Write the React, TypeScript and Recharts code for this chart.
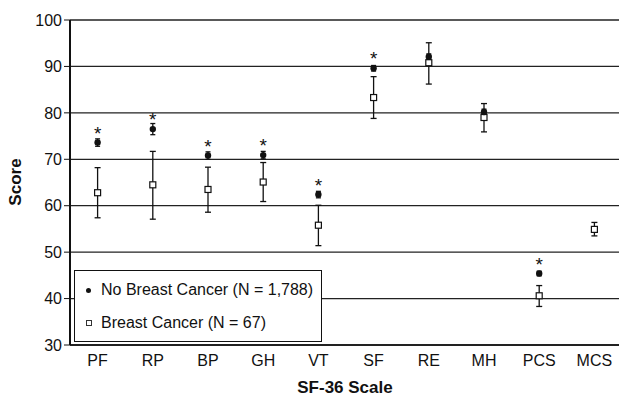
import React from "react";
import { ComposedChart, Scatter, XAxis, YAxis, CartesianGrid, ErrorBar, Legend, Label } from "recharts";

// SF-36 domains and summary scores
const scales = ["PF", "RP", "BP", "GH", "VT", "SF", "RE", "MH", "PCS", "MCS"];

// No breast cancer (N = 1,788)
const noCancer = [73.6, 76.5, 70.8, 70.9, 62.4, 89.6, 92.1, 80.2, 45.4, null];
const noCancerErr = [0.8, 1.2, 0.8, 0.8, 0.7, 0.6, 0.6, 0.6, 0.5, null];

// Breast cancer (N = 67)
const cancer = [62.8, 64.5, 63.5, 65.1, 55.8, 83.3, 90.8, 79.0, 40.6, 54.9];
const cancerLow = [5.4, 7.4, 4.9, 4.2, 4.4, 4.5, 4.6, 3.1, 2.3, 1.4];
const cancerHigh = [5.4, 7.2, 4.8, 4.2, 4.3, 4.5, 4.3, 3.0, 2.2, 1.5];

const significant = [true, true, true, true, true, true, false, false, true, false];
const yTicks = [30, 40, 50, 60, 70, 80, 90, 100];

const data = scales.map((name, i) => ({
  name,
  noCancer: noCancer[i],
  noCancerErr: noCancerErr[i],
  cancer: cancer[i],
  cancerErr: [cancerLow[i], cancerHigh[i]],
  star: significant[i] ? noCancer[i] : null,
}));

const font = "'Liberation Sans', Arial, Helvetica, sans-serif";

const DotShape = (p: any) => {
  if (p.payload.noCancer == null) return <g />;
  return <circle cx={p.cx} cy={p.cy} r={3.2} fill="#111" />;
};

const SquareShape = (p: any) => (
  <rect x={p.cx - 3} y={p.cy - 3} width={6} height={6} fill="#fff" stroke="#111" strokeWidth={1.2} />
);

const StarShape = (p: any) => {
  if (p.payload.star == null) return <g />;
  return (
    <text x={p.cx} y={p.cy - 3} textAnchor="middle" fontSize={19} fontFamily={font} fill="#111">
      *
    </text>
  );
};

const LegendBox = () => (
  <div
    style={{
      width: 248,
      height: 72,
      border: "1.3px solid #111",
      background: "#fff",
      boxSizing: "border-box",
      fontFamily: font,
      fontSize: 16,
      color: "#111",
      position: "relative",
    }}
  >
    <div style={{ position: "absolute", left: 11, top: 10, display: "flex", alignItems: "center" }}>
      <span style={{ width: 5, height: 5, borderRadius: "50%", background: "#111", display: "inline-block", marginRight: 10 }} />
      No Breast Cancer (N = 1,788)
    </div>
    <div style={{ position: "absolute", left: 11, top: 43, display: "flex", alignItems: "center" }}>
      <span style={{ width: 4, height: 4, border: "1px solid #333", background: "#fff", display: "inline-block", marginRight: 9 }} />
      Breast Cancer (N = 67)
    </div>
  </div>
);

export default function App() {
  return (
    <div style={{ position: "absolute", left: 0, top: 0, background: "#fff" }}>
      <ComposedChart width={619} height={397} data={data} margin={{ top: 20, right: 0, bottom: 0, left: 0 }}>
        <CartesianGrid horizontal vertical={false} stroke="#222" strokeWidth={1.3} />
        <XAxis
          dataKey="name"
          type="category"
          scale="band"
          height={52}
          padding={{ left: 0, right: -3 }}
          axisLine={{ stroke: "#111", strokeWidth: 1.5 }}
          tickLine={false}
          tickSize={0}
          tickMargin={10}
          tick={{ fill: "#111", fontSize: 16, fontFamily: font }}
          interval={0}
        >
          <Label
            content={() => (
              <text x={345} y={393} textAnchor="middle" fontSize={17} fontWeight="bold" fontFamily={font} fill="#111">
                SF-36 Scale
              </text>
            )}
          />
        </XAxis>
        <YAxis
          type="number"
          domain={[30, 100]}
          ticks={yTicks}
          width={70}
          axisLine={{ stroke: "#111", strokeWidth: 2 }}
          tickLine={{ stroke: "#111" }}
          tickSize={6}
          tickMargin={2}
          tick={{ fill: "#111", fontSize: 16, fontFamily: font }}
        >
          <Label
            content={() => (
              <text
                x={15.5}
                y={182}
                transform="rotate(-90 15.5 182)"
                textAnchor="middle"
                dominantBaseline="central"
                fontSize={17}
                fontWeight="bold"
                fontFamily={font}
                fill="#111"
              >
                Score
              </text>
            )}
          />
        </YAxis>
        <Legend
          layout="horizontal"
          verticalAlign="middle"
          align="center"
          wrapperStyle={{ left: 74, top: 270, width: 248, height: 72 }}
          content={() => <LegendBox />}
        />
        <Scatter dataKey="cancer" name="Breast Cancer (N = 67)" shape={SquareShape} isAnimationActive={false}>
          <ErrorBar dataKey="cancerErr" direction="y" width={3} stroke="#111" strokeWidth={1.3} />
        </Scatter>
        <Scatter dataKey="noCancer" name="No Breast Cancer (N = 1,788)" shape={DotShape} isAnimationActive={false}>
          <ErrorBar dataKey="noCancerErr" direction="y" width={2.5} stroke="#111" strokeWidth={1.3} />
        </Scatter>
        <Scatter dataKey="star" shape={StarShape} isAnimationActive={false} legendType="none" />
      </ComposedChart>
    </div>
  );
}
